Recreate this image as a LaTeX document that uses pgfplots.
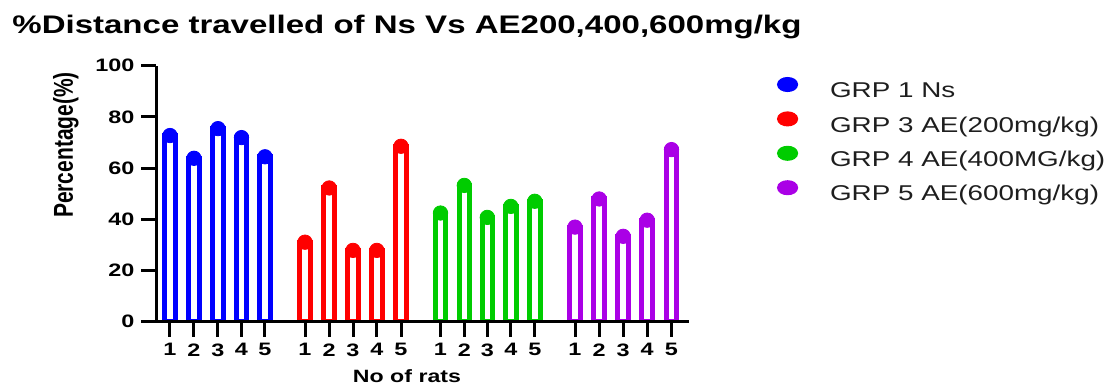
\documentclass[border=0pt]{standalone}
\usepackage{pgfplots}
\pgfplotsset{compat=1.18}
\usepackage{graphicx}
\usepackage{fontspec}
\setmainfont[FakeStretch=1.3]{Liberation Sans}
\newfontfamily\plainsans{Liberation Sans}
\definecolor{cblue}{RGB}{0,0,255}
\definecolor{cred}{RGB}{255,0,0}
\definecolor{cgreen}{RGB}{0,204,0}
\definecolor{cpurple}{RGB}{170,0,230}
\definecolor{ctext}{RGB}{30,30,30}
\begin{document}
\begin{tikzpicture}
\path[use as bounding box] (-78.25pt,-31.75pt) rectangle (478.75pt,160.75pt);
\begin{axis}[
  at={(0pt,0pt)}, anchor=south west,
  scale only axis, width=266.25pt, height=127.9pt,
  xmin=156.5, xmax=689, ymin=0, ymax=100,
  axis x line*=bottom, axis y line*=left,
  axis line style={line width=1.65pt, black},
  axis on top,
  tick align=outside,
  major tick length=7.5pt,
  tick style={line width=1.5pt, black},
  ytick={0,20,40,60,80,100},
  xtick={170,194,218,241.5,265, 305,329.2,353,376.8,401, 440.5,464.3,487.3,510.8,534.8, 575,599.2,623.2,647.2,671.5},
  xticklabels={1,2,3,4,5,1,2,3,4,5,1,2,3,4,5,1,2,3,4,5},
  /pgf/number format/assume math mode=true,
  tick label style={font=\bfseries\fontsize{9}{10}\selectfont},
  ybar, bar shift=0pt, bar width=5.3pt,
  ylabel={\scalebox{1}[1.3]{\plainsans\bfseries\fontsize{10.5}{12}\selectfont Percentage(\%)}},
  ylabel style={at={(axis description cs:-0.170,0.69)}, anchor=center},
  xlabel={No of rats},
  xlabel style={font=\bfseries\fontsize{8.9}{10}\selectfont, at={(axis description cs:0.4704,0)}, anchor=base, yshift=-30.5pt},
  legend style={at={(axis description cs:1.1534,0.973)}, anchor=north west, draw=none, fill=none,
    font=\fontsize{10.7}{13}\selectfont, text=ctext, row sep=4.35pt,
    nodes={inner sep=0pt, text height=8pt, text depth=2.5pt}},
  legend cell align=left,
  /tikz/every odd column/.append style={column sep=16pt},
]
\addplot[draw=cblue, fill=white, line width=2.5pt, mark=*, mark size=3.6pt, mark options={fill=cblue, draw=cblue, line width=0.4pt},
  legend image code/.code={\fill[cblue] (4pt,3.85pt) ellipse (4pt and 2.5pt);}]
  coordinates {(170,72.7) (194,63.8) (218,75.4) (241.5,71.9) (265,64.4)};
\addlegendentry{GRP 1 Ns}
\addplot[draw=cred, fill=white, line width=2.5pt, mark=*, mark size=3.6pt, mark options={fill=cred, draw=cred, line width=0.4pt},
  legend image code/.code={\fill[cred] (4pt,3.85pt) ellipse (4pt and 2.5pt);}]
  coordinates {(305,31.0) (329.2,52.2) (353,27.8) (376.8,27.8) (401,68.5)};
\addlegendentry{GRP 3 AE(200mg/kg)}
\addplot[draw=cgreen, fill=white, line width=2.5pt, mark=*, mark size=3.6pt, mark options={fill=cgreen, draw=cgreen, line width=0.4pt},
  legend image code/.code={\fill[cgreen] (4pt,3.85pt) ellipse (4pt and 2.5pt);}]
  coordinates {(440.5,42.4) (464.3,53.2) (487.3,40.7) (510.8,45.0) (534.8,47.0)};
\addlegendentry{GRP 4 AE(400MG/kg)}
\addplot[draw=cpurple, fill=white, line width=2.5pt, mark=*, mark size=3.6pt, mark options={fill=cpurple, draw=cpurple, line width=0.4pt},
  legend image code/.code={\fill[cpurple] (4pt,3.85pt) ellipse (4pt and 2.5pt);}]
  coordinates {(575,36.9) (599.2,47.9) (623.2,33.3) (647.2,39.6) (671.5,67.2)};
\addlegendentry{GRP 5 AE(600mg/kg)}
\end{axis}
\node[anchor=base west, inner sep=0pt, font=\bfseries\fontsize{12.7}{15}\selectfont] at (-72.25pt,143.75pt) {\%Distance travelled of Ns Vs AE200,400,600mg/kg};
\end{tikzpicture}
\end{document}
